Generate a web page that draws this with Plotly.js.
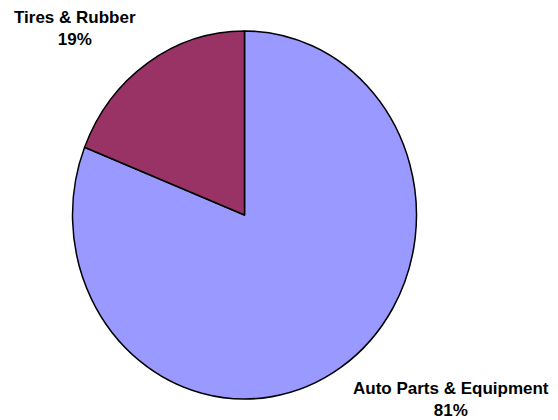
<!DOCTYPE html>
<html>
<head>
<meta charset="utf-8">
<script src="https://cdn.plot.ly/plotly-3.0.1.min.js"></script>
<style>html,body{margin:0;padding:0;background:#fff;}#chart{width:558px;height:420px;}</style>
</head>
<body>
<div id="chart"></div>
<script>
const categories = ["Auto Parts & Equipment", "Tires & Rubber"];
const shares = [81, 19];
const sliceColors = ["#9999FF", "#993366"];

const total = shares.reduce((a, b) => a + b, 0);
const labelText = categories.map((c, i) => c + "<br>" + Math.round(shares[i] / total * 100) + "%");
const labelPos = [[451, 399], [75, 29]];

const W = 558, H = 420;
const cx = 244.5, cy = 215, rx = 172, ry = 184;

const data = [{
  type: "pie",
  labels: categories,
  values: shares,
  sort: false,
  direction: "clockwise",
  rotation: 0,
  textinfo: "none",
  hoverinfo: "label+percent",
  marker: { colors: sliceColors, line: { color: "#000", width: 1.5 } },
  domain: { x: [(cx - rx) / W, (cx + rx) / W], y: [1 - (cy + rx) / H, 1 - (cy - rx) / H] },
  showlegend: false
}];

const layout = {
  width: W, height: H,
  margin: { l: 0, r: 0, t: 0, b: 0 },
  paper_bgcolor: "#fff",
  plot_bgcolor: "#fff",
  showlegend: false,
  annotations: labelText.map((t, i) => ({
    text: t,
    xref: "paper", yref: "paper",
    x: labelPos[i][0] / W, y: 1 - labelPos[i][1] / H,
    xanchor: "center", yanchor: "middle",
    showarrow: false,
    font: { family: "Liberation Sans, Arial, sans-serif", size: 17, color: "#000", weight: "bold" }
  }))
};

Plotly.newPlot("chart", data, layout, { displayModeBar: false, staticPlot: true }).then(() => {
  // the reference pie is slightly taller than wide: stretch vertically about its centre
  const k = ry / rx;
  document.querySelectorAll(".pielayer").forEach(g => {
    g.setAttribute("transform", `translate(0 ${cy}) scale(1 ${k}) translate(0 ${-cy})`);
  });
});
</script>
</body>
</html>
